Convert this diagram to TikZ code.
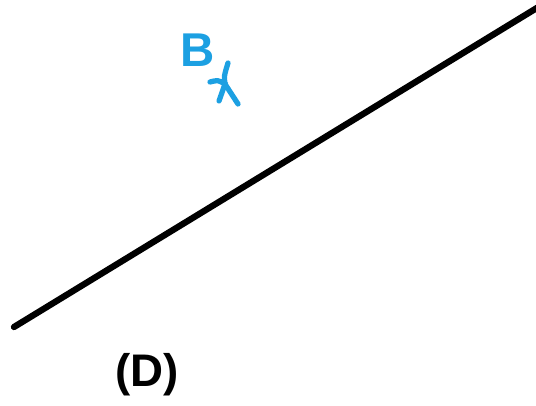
\documentclass[tikz,border=0pt]{standalone}
\usepackage{fontspec}
\setmainfont{Liberation Sans}
\usetikzlibrary{positioning}
\definecolor{markblue}{RGB}{28,160,226}

\begin{document}
\begin{tikzpicture}[
    x=0.02cm, y=-0.02cm,
    mainline/.style={line width=3.6pt, line cap=round},
    crossline/.style={markblue, line width=3pt, line cap=round},
    labelB/.style={text=markblue, font=\bfseries\fontsize{27}{27}\selectfont, inner sep=0pt},
    labelD/.style={font=\bfseries\fontsize{26}{26}\selectfont, inner sep=0pt}
]
\useasboundingbox (0,0) rectangle (536,405);

% the line (D)
\coordinate (start) at (14,327);
\coordinate (end) at (545,3);
\draw[mainline] (start) -- (end);
\node[labelD] (D) at (147,375) {(D)};

% point B
\node[labelB] (B) at (198,50) {B};
\coordinate (top) at (228,63);
\coordinate (mid) at (225,84);
\coordinate (left) at (210,82);
\draw[crossline] (top) .. controls (224,76) .. (mid) -- (238,104);
\draw[crossline] (left) .. controls (218,80) .. (mid) -- (219,101);

\end{tikzpicture}
\end{document}
